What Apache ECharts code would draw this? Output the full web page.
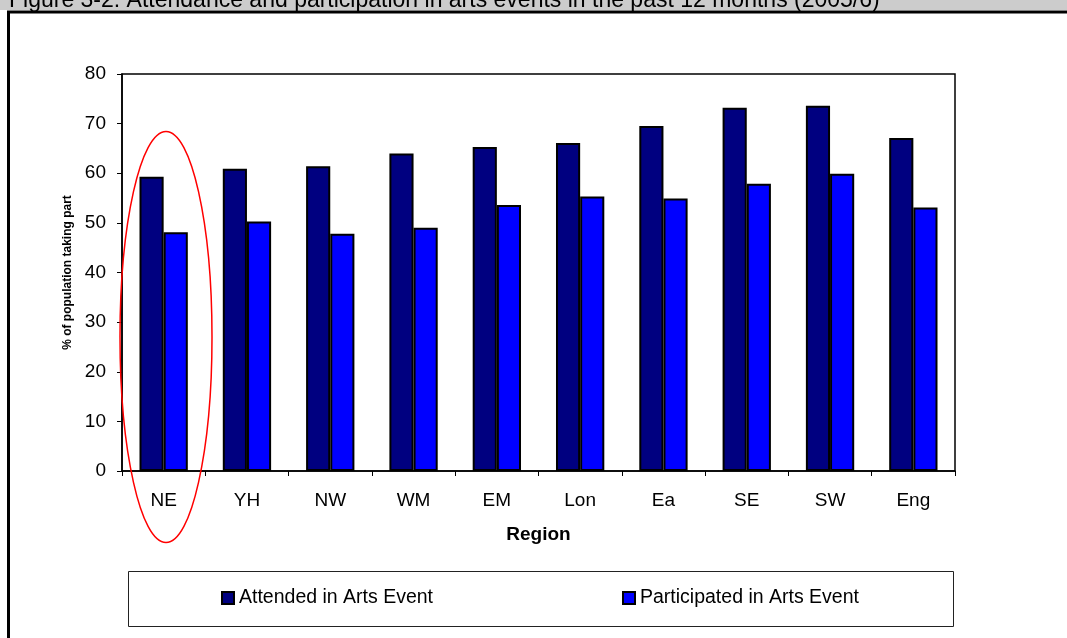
<!DOCTYPE html>
<html>
<head>
<meta charset="utf-8">
<script src="https://cdn.jsdelivr.net/npm/echarts@6/dist/echarts.min.js"></script>
<style>html,body{margin:0;padding:0;background:#fff;}#c{width:1067px;height:638px;}</style>
</head>
<body>
<div id="c"></div>
<script>
var regions = ['NE','YH','NW','WM','EM','Lon','Ea','SE','SW','Eng'];
var attended = [59.3, 60.9, 61.4, 64.0, 65.3, 66.1, 69.5, 73.2, 73.6, 67.1];
var participated = [48.1, 50.3, 47.8, 49.0, 53.6, 55.3, 54.9, 57.9, 59.9, 53.1];
var yTicks = [0, 10, 20, 30, 40, 50, 60, 70, 80];
var seriesNames = ['Attended in Arts Event', 'Participated in Arts Event'];
var titleText = 'Figure 3-2: Attendance and participation in arts events in the past 12 months (2005/6)';

var chart = echarts.init(document.getElementById('c'), null, {renderer: 'canvas'});
var font = 'Arial, "Liberation Sans", sans-serif';
var legendText = {fontFamily: font, fontSize: 19.5, color: '#000'};
chart.setOption({
  animation: false,
  backgroundColor: '#fff',
  textStyle: {fontFamily: font},
  grid: {left: 122, right: 112, top: 74, bottom: 167, show: true, borderColor: '#000', borderWidth: 1.5, backgroundColor: 'transparent'},
  legend: [
    {left: 221, top: 588, padding: 0, itemWidth: 12, itemHeight: 12, icon: 'rect',
     textStyle: legendText, data: [seriesNames[0]]},
    {left: 622, top: 588, padding: 0, itemWidth: 12, itemHeight: 12, icon: 'rect',
     textStyle: legendText, data: [seriesNames[1]]}
  ],
  xAxis: {
    type: 'category', data: regions,
    name: 'Region', nameLocation: 'middle', nameGap: 54,
    nameTextStyle: {fontFamily: font, fontSize: 19, fontWeight: 'bold', color: '#000'},
    axisLine: {lineStyle: {color: '#000', width: 1.5}},
    axisTick: {show: true, length: 5, alignWithLabel: false, lineStyle: {color: '#000'}},
    axisLabel: {fontFamily: font, fontSize: 19, color: '#000', margin: 20},
    splitLine: {show: false}
  },
  yAxis: {
    type: 'value', min: yTicks[0], max: yTicks[yTicks.length-1], interval: 10,
    name: '% of population taking part', nameLocation: 'middle', nameGap: 43,
    nameTextStyle: {fontFamily: font, fontSize: 12, fontWeight: 'bold', color: '#000'},
    axisLine: {show: true, lineStyle: {color: '#000', width: 1.5}},
    axisTick: {show: true, length: 5, lineStyle: {color: '#000'}},
    axisLabel: {fontFamily: font, fontSize: 19, color: '#000', margin: 16},
    splitLine: {show: false}
  },
  series: [
    {name: seriesNames[0], type: 'bar', data: attended, barGap: '0%', barCategoryGap: '42%',
     itemStyle: {color: '#000080', borderColor: '#000', borderWidth: 2}},
    {name: seriesNames[1], type: 'bar', data: participated, barGap: '0%', barCategoryGap: '42%',
     itemStyle: {color: '#0000FF', borderColor: '#000', borderWidth: 2}}
  ],
  graphic: [
    {type: 'rect', left: 0, top: 0, shape: {width: 1067, height: 10}, style: {fill: '#cccccc'}, silent: true, z: 10},
    {type: 'text', left: 9, top: -11, style: {text: titleText, font: '23px ' + font, fill: '#000'}, silent: true, z: 11},
    {type: 'rect', shape: {x: 0, y: 0, width: 1200, height: 800}, position: [8.5, 12], style: {fill: 'none', stroke: '#000', lineWidth: 3}, silent: true, z: 12},
    {type: 'rect', shape: {x: 128.5, y: 571.5, width: 825, height: 55}, style: {fill: 'none', stroke: '#222', lineWidth: 1}, silent: true, z: 5},
    {type: 'ellipse', shape: {cx: 166, cy: 337, rx: 46, ry: 205.5}, style: {fill: 'none', stroke: '#ff0000', lineWidth: 1.5}, silent: true, z: 20}
  ]
});
</script>
</body>
</html>
